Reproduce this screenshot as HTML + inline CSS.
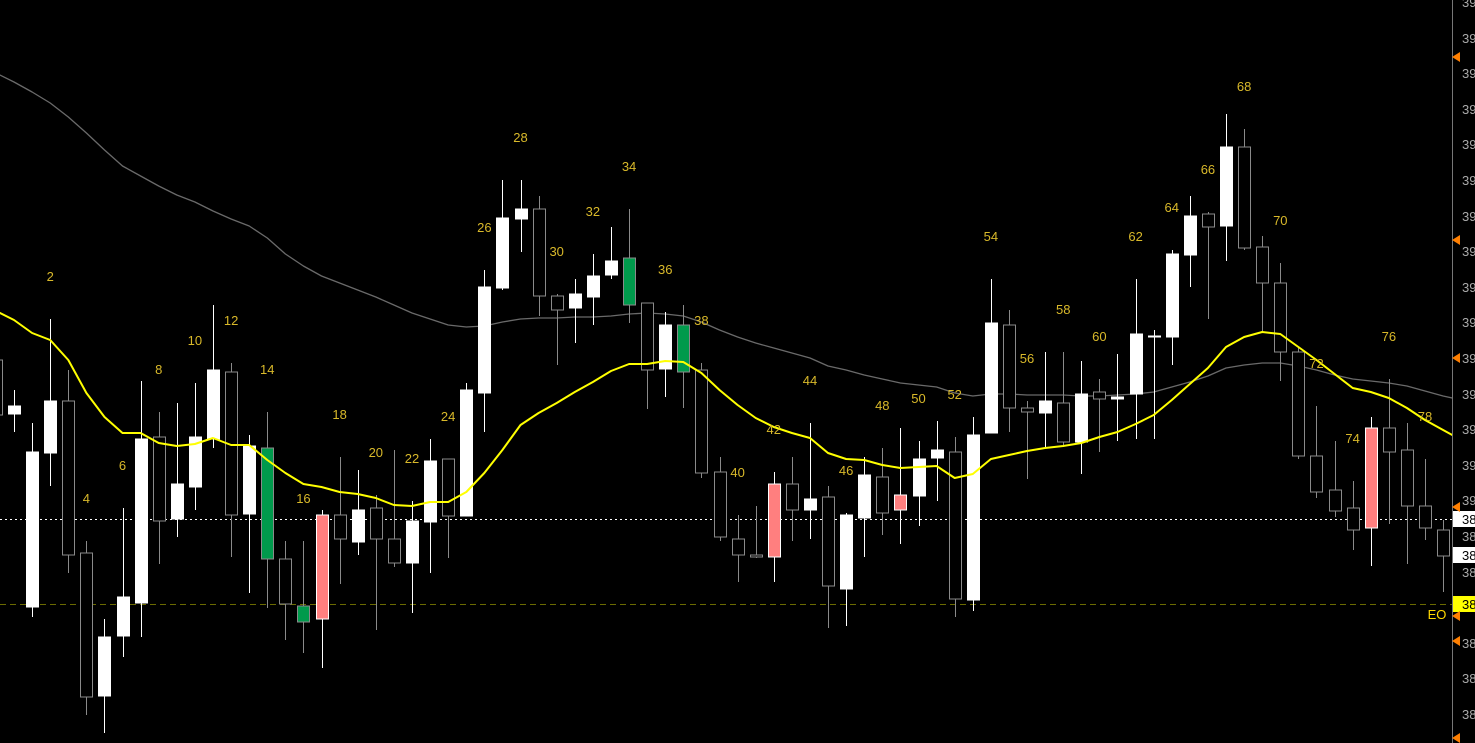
<!DOCTYPE html>
<html><head><meta charset="utf-8"><style>
html,body{margin:0;padding:0;background:#000;width:1475px;height:743px;overflow:hidden}
svg{display:block;font-family:"Liberation Sans",sans-serif}
</style></head><body>
<svg id="chart" width="1475" height="743" viewBox="0 0 1475 743"></svg>
<script>
const opens=[3915.0,3909.6,3890.3,3905.7,3910.9,3895.7,3881.4,3887.4,3890.7,3907.3,3899.1,3902.3,3907.1,3913.8,3899.6,3906.2,3895.1,3890.4,3889.1,3899.5,3896.8,3900.2,3897.1,3894.7,3898.8,3905.1,3899.4,3911.7,3922.2,3929.1,3930.1,3921.4,3920.2,3921.3,3923.5,3925.2,3920.7,3914.1,3918.5,3914.0,3903.8,3897.1,3895.5,3895.3,3902.6,3900.0,3901.3,3892.1,3899.2,3903.3,3900.0,3901.4,3905.2,3905.8,3891.0,3907.7,3918.5,3910.2,3909.7,3910.7,3906.8,3911.8,3911.1,3911.6,3917.3,3917.3,3925.5,3929.6,3928.4,3936.3,3926.3,3922.7,3915.8,3905.4,3902.0,3900.2,3898.2,3908.2,3906.0,3900.4,3898.0];
const highs=[3915.5,3912.0,3908.7,3919.1,3914.0,3896.9,3889.1,3900.2,3912.9,3909.8,3910.7,3912.7,3920.5,3914.7,3907.5,3909.8,3896.9,3896.9,3900.0,3905.3,3904.0,3901.5,3906.0,3900.9,3907.1,3905.1,3912.7,3924.0,3933.0,3933.0,3931.4,3921.6,3923.1,3925.6,3928.3,3930.1,3920.7,3919.8,3920.5,3914.7,3905.3,3899.5,3900.4,3903.8,3905.3,3908.7,3902.4,3899.7,3905.3,3906.2,3908.2,3906.9,3908.9,3907.3,3909.3,3923.1,3920.0,3910.9,3915.8,3915.8,3914.9,3913.1,3915.6,3923.1,3918.0,3926.0,3931.4,3929.8,3939.6,3938.1,3927.4,3924.7,3916.3,3910.4,3906.9,3902.9,3909.3,3913.1,3908.7,3905.1,3899.0];
const lows=[3909.0,3907.8,3889.3,3902.4,3893.7,3879.5,3877.7,3885.3,3887.3,3894.6,3897.3,3900.0,3906.2,3895.3,3891.7,3890.2,3887.0,3885.7,3884.2,3892.6,3895.5,3888.0,3894.3,3889.7,3893.7,3895.2,3899.4,3907.8,3922.0,3925.8,3919.4,3914.5,3916.7,3918.5,3923.1,3918.7,3910.1,3911.3,3910.2,3903.2,3896.9,3892.8,3895.2,3892.8,3896.9,3897.1,3888.2,3888.4,3895.3,3897.5,3896.6,3898.4,3900.9,3889.3,3889.9,3907.7,3907.8,3903.1,3906.3,3906.3,3903.6,3905.8,3906.9,3907.1,3907.1,3914.5,3922.3,3919.1,3924.9,3926.0,3917.8,3912.9,3905.1,3901.2,3899.3,3896.0,3894.4,3898.6,3894.6,3897.0,3891.8];
const closes=[3909.5,3910.4,3905.8,3910.9,3895.5,3881.3,3887.3,3891.3,3907.1,3898.9,3902.6,3907.3,3914.0,3899.5,3906.4,3895.1,3890.6,3888.8,3899.5,3897.1,3900.0,3897.1,3894.7,3898.9,3904.9,3899.4,3912.0,3922.3,3929.2,3930.1,3921.4,3920.0,3921.6,3923.4,3924.9,3920.5,3914.0,3918.5,3913.8,3903.7,3897.3,3895.5,3895.3,3902.6,3900.0,3901.1,3892.4,3899.5,3903.5,3899.7,3901.5,3905.1,3906.0,3891.1,3907.5,3918.7,3910.2,3909.8,3910.9,3906.8,3911.6,3911.1,3911.3,3917.6,3917.4,3925.6,3929.4,3928.3,3936.3,3926.2,3922.7,3915.8,3905.4,3901.8,3899.9,3898.0,3908.2,3905.8,3900.4,3898.2,3895.4];
const styles=("hwwwhhwwwh"+"wwwhwghgph"+"whhwwhwwww"+"hhwwwghwgh"+"hhhphwhwwh"+"pwwhwwhhwh"+"whwwwwwhwh"+"hhhhhhphhh"+"h").split('');
const fastMA=[3919.9,3919.0,3917.7,3917.0,3915.0,3911.7,3909.3,3907.7,3907.7,3906.7,3906.4,3906.6,3907.2,3906.5,3906.5,3905.0,3903.7,3902.6,3902.3,3901.8,3901.6,3901.2,3900.5,3900.4,3900.8,3900.8,3901.8,3903.7,3906.0,3908.5,3909.7,3910.7,3911.8,3912.8,3913.9,3914.6,3914.6,3914.9,3914.8,3913.7,3912.0,3910.5,3909.2,3908.3,3907.7,3907.2,3905.7,3905.1,3905.0,3904.5,3904.2,3904.3,3904.4,3903.2,3903.6,3905.1,3905.5,3905.9,3906.2,3906.4,3906.7,3907.3,3907.8,3908.6,3909.5,3911.0,3912.6,3914.2,3916.3,3917.3,3917.8,3917.6,3916.3,3915.0,3913.6,3912.2,3911.8,3911.2,3910.2,3909.0,3908.0,3907.0];
const slowMA=[3943.7,3942.8,3941.8,3940.7,3939.3,3937.7,3936.0,3934.4,3933.4,3932.4,3931.5,3930.8,3929.9,3929.1,3928.4,3927.2,3925.6,3924.4,3923.4,3922.7,3922.0,3921.3,3920.5,3919.7,3919.1,3918.5,3918.3,3918.4,3918.8,3919.1,3919.2,3919.2,3919.3,3919.3,3919.4,3919.6,3919.7,3919.6,3919.4,3918.8,3918.0,3917.3,3916.7,3916.2,3915.7,3915.2,3914.4,3914.0,3913.5,3913.1,3912.7,3912.5,3912.3,3911.7,3911.4,3911.6,3911.6,3911.5,3911.5,3911.5,3911.4,3911.4,3911.5,3911.6,3911.8,3912.3,3912.8,3913.4,3914.2,3914.5,3914.7,3914.7,3914.4,3914.0,3913.5,3913.1,3912.9,3912.7,3912.4,3911.9,3911.4,3911.0];
const labelBars=[2,4,6,8,10,12,14,16,18,20,22,24,26,28,30,32,34,36,38,40,42,44,46,48,50,52,54,56,58,60,62,64,66,68,70,72,74,76,78];
const labelPrices=[3923.4,3901.2,3904.5,3914.1,3917.0,3919.0,3914.1,3901.2,3909.6,3905.8,3905.2,3909.4,3928.3,3937.3,3925.9,3929.9,3934.4,3924.1,3919.0,3903.8,3908.1,3913.0,3904.0,3910.5,3911.2,3911.6,3927.4,3915.2,3920.1,3917.4,3927.4,3930.3,3934.1,3942.4,3929.0,3914.7,3907.2,3917.4,3909.4];
const tickPrices=[3950.8,3947.2,3943.7,3940.1,3936.6,3933.0,3929.4,3925.9,3922.3,3918.8,3915.2,3911.6,3908.1,3904.5,3901.0,3897.4,3893.8,3890.3,3886.7,3883.2,3879.6];
const lastPrice=3899.1, eoPrice=3890.6, markPrice2=3895.5;
const markerPrices=[3945.3,3927.0,3915.2,3900.3,3889.4,3886.9,3877.2];

const NS="http://www.w3.org/2000/svg";
const svg=document.getElementById('chart');
const plotR=1452;
function y(p){return (3951-p)*10;}
function x(i){return 14+18.09*(i-1);} // array index 0 = bar -1
function mk(tag,attrs,parent){const e=document.createElementNS(NS,tag);for(const k in attrs)e.setAttribute(k,attrs[k]);(parent||svg).appendChild(e);return e;}

const defs=mk('defs',{});
const cp=mk('clipPath',{id:'plot'},defs);mk('rect',{x:0,y:0,width:plotR,height:743},cp);
const plot=mk('g',{'clip-path':'url(#plot)'});



const ll=mk('line',{x1:0,x2:plotR,y1:y(lastPrice)+0.5,y2:y(lastPrice)+0.5,stroke:'#fff','stroke-dasharray':'2,3','stroke-width':1},plot);


const eo=mk('line',{x1:0,x2:plotR,y1:y(eoPrice)+0.5,y2:y(eoPrice)+0.5,stroke:'#6b6b00','stroke-dasharray':'6,4','stroke-width':1},plot);



function line(arr,color,w,name){
  let d='';arr.forEach((v,i)=>{d+=(i?'L':'M')+x(i).toFixed(1)+','+y(v).toFixed(1);});
  const p=mk('path',{d:d,fill:'none',stroke:color,'stroke-width':w,'stroke-linejoin':'round'},plot);
  
  
}
line(slowMA,'#6a6a6a',1.3,'slow-moving-average');

const colors={w:['#fff','#fff'],h:['#000','#8a8a8a'],g:['#009a4c','#8a8a8a'],p:['#ff7f7f','#fff']};
opens.forEach((o,i)=>{
  const c=closes[i],s=styles[i]||'h',cx=Math.round(x(i))+0.5;
  const g=mk('g',{},plot);
  
  
  const wc=(s==='w'||s==='p')?'#fff':'#8a8a8a';
  mk('line',{x1:cx,x2:cx,y1:y(highs[i]),y2:y(lows[i]),stroke:wc,'stroke-width':1},g);
  const top=y(Math.max(o,c)),bot=y(Math.min(o,c));
  const h=Math.max(bot-top,1);
  mk('rect',{x:cx-6,y:top,width:12,height:h,fill:colors[s][0],stroke:colors[s][1],'stroke-width':1},g);
});
line(fastMA,'#ffff00',2,'fast-moving-average');

labelBars.forEach((b,k)=>{
  const t=mk('text',{x:x(b+1),y:y(labelPrices[k])+5,fill:'#d9b92a','font-size':13,'text-anchor':'middle'},plot);
  
  
  t.textContent=b;
});
const eot=mk('text',{x:1437,y:y(eoPrice)+15,fill:'#ffd700','font-size':13,'text-anchor':'middle'},plot);


eot.textContent='EO';

const ax=mk('g',{});


mk('line',{x1:plotR+0.5,x2:plotR+0.5,y1:0,y2:743,stroke:'#777','stroke-width':1},ax);
tickPrices.forEach(p=>{
  const t=mk('text',{x:1462,y:y(p)+5,fill:'#aaa','font-size':13},ax);
  
  
  t.textContent=p.toFixed(2);
});
function box(p,bg,name){
  const g=mk('g',{},ax);
  
  
  mk('rect',{x:plotR+1,y:y(p)-8,width:30,height:16,fill:bg},g);
  const t=mk('text',{x:1462,y:y(p)+5,fill:'#000','font-size':13},g);
  t.textContent=p.toFixed(2);
}
box(lastPrice,'#fff','last-price-tag');
box(markPrice2,'#fff','bid-price-tag');
box(eoPrice,'#ffff00','eo-price-tag');
markerPrices.forEach(p=>{
  const m=mk('polygon',{points:`${plotR},${y(p)} ${plotR+8},${y(p)-5} ${plotR+8},${y(p)+5}`,fill:'#ff7f00'},ax);
  
  
});
</script>
</body></html>
